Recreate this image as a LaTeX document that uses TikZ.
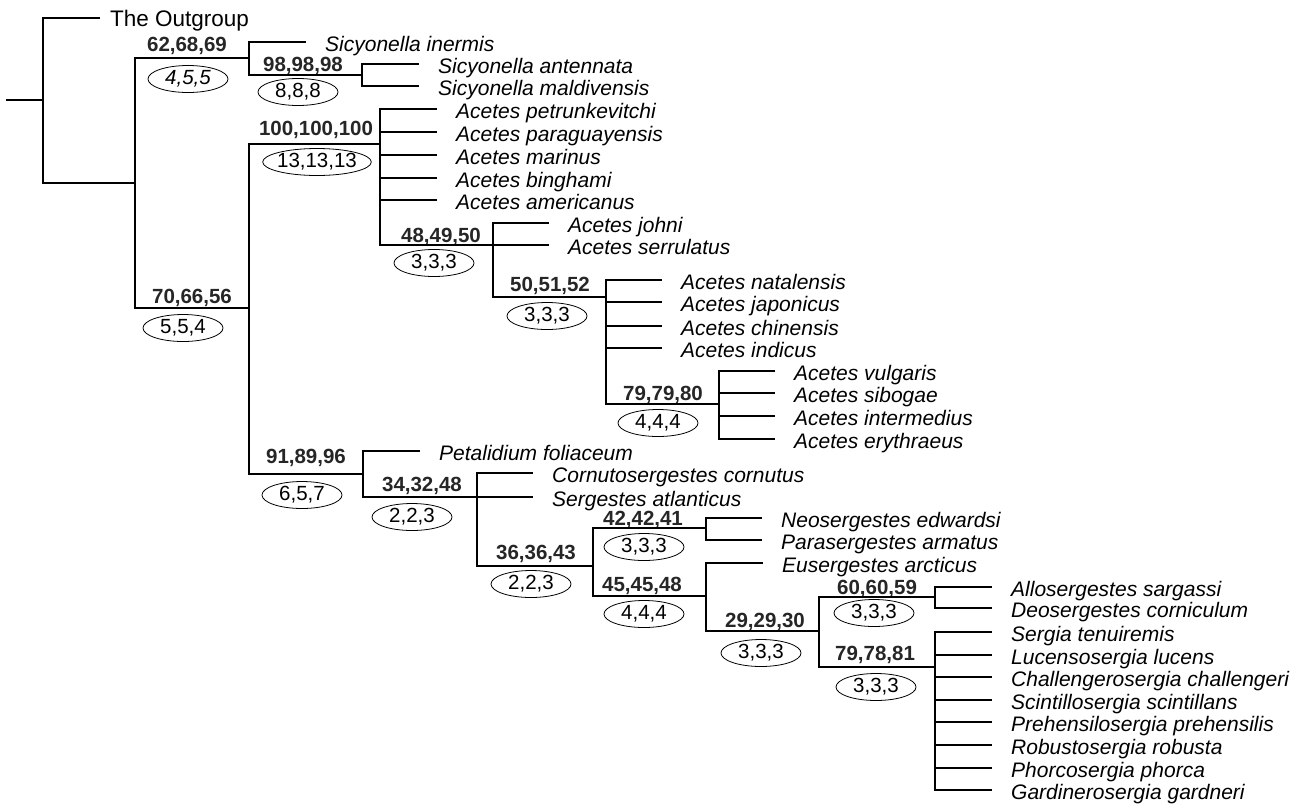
\documentclass[tikz,border=0pt]{standalone}
\usepackage{fontspec}
\setmainfont{Liberation Sans}
\usetikzlibrary{shapes.geometric}

\begin{document}
\begin{tikzpicture}[
    x=1pt, y=-1pt,
    br/.style={line width=1.8pt},
    taxon/.style={anchor=base west, inner sep=0pt, xshift=19pt, yshift=-9.5pt, font=\fontsize{21}{24}\selectfont\itshape},
    bs/.style={inner sep=0pt, text=black!85, font=\fontsize{20.5}{24}\selectfont\bfseries},
    bremer/.style={draw, ellipse, line width=0.8pt, inner sep=-1.5pt, minimum width=80pt, minimum height=27pt, font=\fontsize{20.5}{24}\selectfont},
  ]
    \fill[white] (0,0) rectangle (1303,804);
    \useasboundingbox (0,0) rectangle (1303,804);

    % internal nodes
    \coordinate (stub)   at (6,100);
    \coordinate (root)   at (43,100);
    \coordinate (ning)   at (135,183);
    \coordinate (nsicy)  at (249,58);
    \coordinate (nsicy2) at (362,75);
    \coordinate (nmain)  at (249,308);
    \coordinate (nacet)  at (380,144);
    \coordinate (nac48)  at (493,245);
    \coordinate (nac50)  at (606,297);
    \coordinate (nac79)  at (719,404);
    \coordinate (nserg)  at (363,474);
    \coordinate (nse34)  at (477,497);
    \coordinate (nse36)  at (593,566);
    \coordinate (nse42)  at (706,528);
    \coordinate (nse45)  at (706,596);
    \coordinate (nse29)  at (819,631);
    \coordinate (nse60)  at (935,597);
    \coordinate (nse79)  at (935,667);

    % tips
    \coordinate (tout)  at (100,18);
    \coordinate (sinerm) at (306,42);
    \coordinate (santen) at (419,64);
    \coordinate (smald)  at (419,86);
    \coordinate (apetr) at (437,109);
    \coordinate (apara) at (437,132);
    \coordinate (amari) at (437,155);
    \coordinate (abing) at (437,178);
    \coordinate (aamer) at (437,200);
    \coordinate (ajohn) at (549,223);
    \coordinate (aserr) at (549,245);
    \coordinate (anata) at (662,280);
    \coordinate (ajapo) at (662,302);
    \coordinate (achin) at (662,326);
    \coordinate (aindi) at (662,348);
    \coordinate (avulg) at (775,371);
    \coordinate (asibo) at (775,393);
    \coordinate (ainte) at (775,416);
    \coordinate (aeryt) at (775,439);
    \coordinate (pfoli) at (420,451);
    \coordinate (ccorn) at (533,473);
    \coordinate (satla) at (533,497);
    \coordinate (nedwa) at (762,518);
    \coordinate (parma) at (762,540);
    \coordinate (earct) at (763,563);
    \coordinate (asarg) at (992,587);
    \coordinate (dcorn) at (992,608);
    \coordinate (stenu) at (992,632);
    \coordinate (lluce) at (992,655);
    \coordinate (cchal) at (992,677);
    \coordinate (sscin) at (992,700);
    \coordinate (ppreh) at (992,722);
    \coordinate (rrobu) at (992,745);
    \coordinate (pphor) at (992,768);
    \coordinate (ggard) at (992,790);

    % taxon names
    \node[anchor=base west, inner sep=0pt, font=\fontsize{22.5}{24}\selectfont] (tout-l) at ([xshift=10pt,yshift=-8pt]tout) {The Outgroup};
    \node[taxon] (sinerm-l) at (sinerm) {Sicyonella inermis};
    \node[taxon] (santen-l) at (santen) {Sicyonella antennata};
    \node[taxon] (smald-l)  at (smald)  {Sicyonella maldivensis};
    \node[taxon] (apetr-l) at (apetr) {Acetes petrunkevitchi};
    \node[taxon] (apara-l) at (apara) {Acetes paraguayensis};
    \node[taxon] (amari-l) at (amari) {Acetes marinus};
    \node[taxon] (abing-l) at (abing) {Acetes binghami};
    \node[taxon] (aamer-l) at (aamer) {Acetes americanus};
    \node[taxon] (ajohn-l) at (ajohn) {Acetes johni};
    \node[taxon] (aserr-l) at (aserr) {Acetes serrulatus};
    \node[taxon] (anata-l) at (anata) {Acetes natalensis};
    \node[taxon] (ajapo-l) at (ajapo) {Acetes japonicus};
    \node[taxon] (achin-l) at (achin) {Acetes chinensis};
    \node[taxon] (aindi-l) at (aindi) {Acetes indicus};
    \node[taxon] (avulg-l) at (avulg) {Acetes vulgaris};
    \node[taxon] (asibo-l) at (asibo) {Acetes sibogae};
    \node[taxon] (ainte-l) at (ainte) {Acetes intermedius};
    \node[taxon] (aeryt-l) at (aeryt) {Acetes erythraeus};
    \node[taxon] (pfoli-l) at (pfoli) {Petalidium foliaceum};
    \node[taxon] (ccorn-l) at (ccorn) {Cornutosergestes cornutus};
    \node[taxon] (satla-l) at (satla) {Sergestes atlanticus};
    \node[taxon] (nedwa-l) at (nedwa) {Neosergestes edwardsi};
    \node[taxon] (parma-l) at (parma) {Parasergestes armatus};
    \node[taxon] (earct-l) at (earct) {Eusergestes arcticus};
    \node[taxon] (asarg-l) at (asarg) {Allosergestes sargassi};
    \node[taxon] (dcorn-l) at (dcorn) {Deosergestes corniculum};
    \node[taxon] (stenu-l) at (stenu) {Sergia tenuiremis};
    \node[taxon] (lluce-l) at (lluce) {Lucensosergia lucens};
    \node[taxon] (cchal-l) at (cchal) {Challengerosergia challengeri};
    \node[taxon] (sscin-l) at (sscin) {Scintillosergia scintillans};
    \node[taxon] (ppreh-l) at (ppreh) {Prehensilosergia prehensilis};
    \node[taxon] (rrobu-l) at (rrobu) {Robustosergia robusta};
    \node[taxon] (pphor-l) at (pphor) {Phorcosergia phorca};
    \node[taxon] (ggard-l) at (ggard) {Gardinerosergia gardneri};

    % support values
    \node[bs] (s62)  at (187,45.5)  {62,68,69};
    \node[bs] (s98)  at (303,65.5)  {98,98,98};
    \node[bs] (s100) at (316,129.5) {100,100,100};
    \node[bs] (s70)  at (192,297.5) {70,66,56};
    \node[bs] (s48)  at (441,236.5) {48,49,50};
    \node[bs] (s50)  at (550,285.5) {50,51,52};
    \node[bs] (s79a) at (663,394.5) {79,79,80};
    \node[bs] (s91)  at (306,457.5) {91,89,96};
    \node[bs] (s34)  at (422,485.5) {34,32,48};
    \node[bs] (s36)  at (536,553.5) {36,36,43};
    \node[bs] (s42)  at (643,519.5) {42,42,41};
    \node[bs] (s45)  at (642,585.5) {45,45,48};
    \node[bs] (s29)  at (765,621.5) {29,29,30};
    \node[bs] (s60)  at (877,588.5) {60,60,59};
    \node[bs] (s79b) at (875,654.5) {79,78,81};

    % bremer ellipses
    \node[bremer] (e62)  at (188,79)  {\itshape 4,5,5};
    \node[bremer] (e98)  at (298,92)  {8,8,8};
    \node[bremer] (e100) at (317,162) {13,13,13};
    \node[bremer] (e70)  at (183,328) {5,5,4};
    \node[bremer] (e48)  at (434,263) {3,3,3};
    \node[bremer] (e50)  at (547,316) {3,3,3};
    \node[bremer] (e79a) at (658,423) {4,4,4};
    \node[bremer] (e91)  at (302,495) {6,5,7};
    \node[bremer] (e34)  at (412,517) {2,2,3};
    \node[bremer] (e36)  at (531,584) {2,2,3};
    \node[bremer] (e42)  at (644,547) {3,3,3};
    \node[bremer] (e45)  at (644,614) {4,4,4};
    \node[bremer] (e29)  at (761,653) {3,3,3};
    \node[bremer] (e60)  at (874,613) {3,3,3};
    \node[bremer] (e79b) at (876,687) {3,3,3};

    % branches
    \draw[br] (stub) -- (root);
    \draw[br] (root) |- (tout);
    \draw[br] (root) |- (ning);
    \draw[br] (ning) |- (nsicy);
    \draw[br] (ning) |- (nmain);
    \draw[br] (nsicy) |- (sinerm);
    \draw[br] (nsicy) |- (nsicy2);
    \draw[br] (nsicy2) |- (santen);
    \draw[br] (nsicy2) |- (smald);
    \draw[br] (nmain) |- (nacet);
    \draw[br] (nmain) |- (nserg);
    \draw[br] (nacet) |- (apetr);
    \draw[br] (nacet) |- (apara);
    \draw[br] (nacet) |- (amari);
    \draw[br] (nacet) |- (abing);
    \draw[br] (nacet) |- (aamer);
    \draw[br] (nacet) |- (nac48);
    \draw[br] (nac48) |- (ajohn);
    \draw[br] (nac48) |- (aserr);
    \draw[br] (nac48) |- (nac50);
    \draw[br] (nac50) |- (anata);
    \draw[br] (nac50) |- (ajapo);
    \draw[br] (nac50) |- (achin);
    \draw[br] (nac50) |- (aindi);
    \draw[br] (nac50) |- (nac79);
    \draw[br] (nac79) |- (avulg);
    \draw[br] (nac79) |- (asibo);
    \draw[br] (nac79) |- (ainte);
    \draw[br] (nac79) |- (aeryt);
    \draw[br] (nserg) |- (pfoli);
    \draw[br] (nserg) |- (nse34);
    \draw[br] (nse34) |- (ccorn);
    \draw[br] (nse34) |- (satla);
    \draw[br] (nse34) |- (nse36);
    \draw[br] (nse36) |- (nse42);
    \draw[br] (nse36) |- (nse45);
    \draw[br] (nse42) |- (nedwa);
    \draw[br] (nse42) |- (parma);
    \draw[br] (nse45) |- (earct);
    \draw[br] (nse45) |- (nse29);
    \draw[br] (nse29) |- (nse60);
    \draw[br] (nse29) |- (nse79);
    \draw[br] (nse60) |- (asarg);
    \draw[br] (nse60) |- (dcorn);
    \draw[br] (nse79) |- (stenu);
    \draw[br] (nse79) |- (lluce);
    \draw[br] (nse79) |- (cchal);
    \draw[br] (nse79) |- (sscin);
    \draw[br] (nse79) |- (ppreh);
    \draw[br] (nse79) |- (rrobu);
    \draw[br] (nse79) |- (pphor);
    \draw[br] (nse79) |- (ggard);
  \end{tikzpicture}
\end{document}
